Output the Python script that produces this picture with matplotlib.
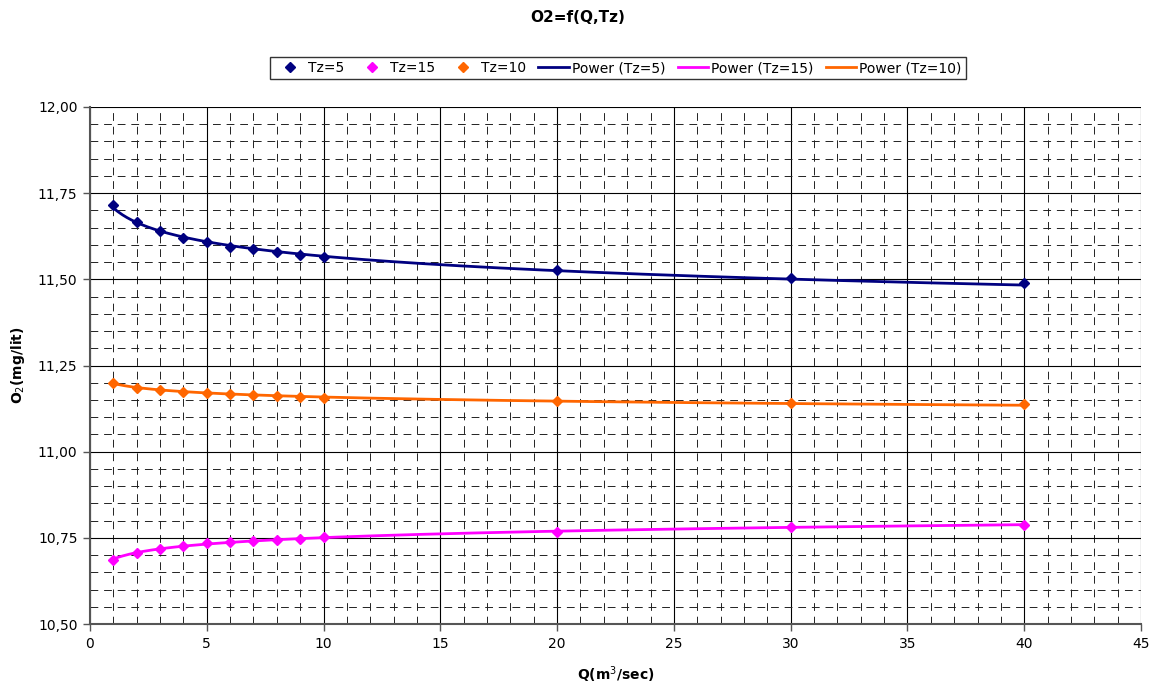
import numpy as np
import matplotlib
matplotlib.use("Agg")
import matplotlib.pyplot as plt
from matplotlib.ticker import MultipleLocator, FuncFormatter
from matplotlib.lines import Line2D

plt.rcParams['font.family'] = ['DejaVu Sans']

Q = [1, 2, 3, 4, 5, 6, 7, 8, 9, 10, 20, 30, 40]
tz5 = [11.715, 11.666, 11.639, 11.620, 11.607, 11.595, 11.587, 11.579, 11.570, 11.565, 11.526, 11.503, 11.489]
tz15 = [10.685, 10.707, 10.719, 10.726, 10.734, 10.738, 10.742, 10.745, 10.748, 10.752, 10.768, 10.780, 10.786]
tz10 = [11.200, 11.186, 11.179, 11.174, 11.170, 11.167, 11.165, 11.162, 11.159, 11.157, 11.146, 11.140, 11.137]

series = [("Tz=5", tz5, "#000080"), ("Tz=15", tz15, "#FF00FF"), ("Tz=10", tz10, "#FF6600")]

fig = plt.figure(figsize=(11.57, 6.91), dpi=100)
ax = fig.add_axes([90/1157, 1-624/691, (1141-90)/1157, (624-107)/691])

x = np.array(Q, dtype=float)
xf = np.linspace(1, 40, 400)
for name, vals, col in series:
    b, lna = np.polyfit(np.log(x), np.log(np.array(vals)), 1)
    ax.plot(xf, np.exp(lna) * xf**b, color=col, lw=2.0, zorder=3)
    ax.plot(x, vals, linestyle='none', marker='D', ms=5.5, color=col, zorder=4)

ax.set_xlim(0, 45)
ax.set_ylim(10.5, 12.0)
ax.xaxis.set_major_locator(MultipleLocator(5))
ax.xaxis.set_minor_locator(MultipleLocator(1))
ax.yaxis.set_major_locator(MultipleLocator(0.25))
ax.yaxis.set_minor_locator(MultipleLocator(0.05))
ax.yaxis.set_major_formatter(FuncFormatter(lambda v, p: f"{v:.2f}".replace('.', ',')))
ax.grid(which='major', color='black', lw=0.8, ls='-', zorder=1)
ax.grid(which='minor', color='#222222', lw=0.7, ls=(0, (8, 6)), zorder=0)
ax.tick_params(which='major', direction='out', length=5, width=1, color='#555555', labelsize=10, pad=4)
ax.tick_params(which='minor', length=0)
for s in ['top', 'right']:
    ax.spines[s].set_visible(False)
for s in ['left', 'bottom']:
    ax.spines[s].set_color('#555555')
    ax.spines[s].set_linewidth(1.5)

ax.set_xlabel("Q(m$^3$/sec)", fontsize=10, fontweight='bold', labelpad=10)
ax.set_ylabel("O$_2$(mg/lit)", fontsize=10, fontweight='bold', labelpad=8)
fig.text(578/1157, 1-18/691, "O2=f(Q,Tz)", ha='center', va='center', fontsize=11, fontweight='bold')

handles = []
labels = []
for name, vals, col in series:
    handles.append(Line2D([], [], ls='none', marker='D', ms=5, color=col))
    labels.append(name)
for name, vals, col in series:
    handles.append(Line2D([], [], color=col, lw=2))
    labels.append(f"Power ({name})")
leg = fig.legend(handles, labels, ncol=6, loc='center', bbox_to_anchor=(618/1157, 1-68/691),
                 fontsize=10, frameon=True, fancybox=False, handlelength=2.2, handletextpad=0.2,
                 columnspacing=0.9, borderpad=0.3)
leg.get_frame().set_edgecolor('black')
leg.get_frame().set_linewidth(1.0)

fig.savefig("out.png", dpi=100)
